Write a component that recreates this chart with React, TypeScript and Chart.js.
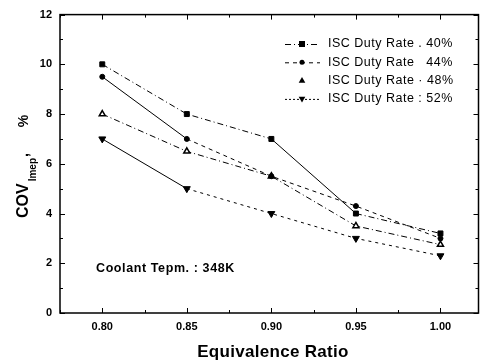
import React, { useEffect, useRef } from "react";
import { Chart, registerables } from "chart.js";

Chart.register(...registerables);

const equivalenceRatio = [0.8, 0.85, 0.9, 0.95, 1.0];
const rate40 = [10, 8, 7, 4, 3.2];
const rate44 = [9.5, 7, 5.5, 4.3, 3.0];
const rate48 = [8, 6.5, 5.5, 3.5, 2.75];
const rate52 = [7, 5, 4, 3, 2.3];
const seriesLabels = [
  "ISC Duty Rate . 40%",
  "ISC Duty Rate   44%",
  "ISC Duty Rate · 48%",
  "ISC Duty Rate : 52%",
];
const xTicks = [0.8, 0.85, 0.9, 0.95, 1.0];
const xTitle = "Equivalence Ratio";
const annotation = "Coolant Tepm. : 348K";

const FONT = "'Liberation Sans', Arial, sans-serif";

const toPts = (ys: number[]) => ys.map((y, i) => ({ x: equivalenceRatio[i], y }));

const DASHDOT = [6, 3, 1, 3];
const DASH = [4, 4];

function drawPointHelper(ctx: CanvasRenderingContext2D, o: any, x: number, y: number) {
  ctx.beginPath();
  const r = o.radius;
  if (o.pointStyle === "rect") {
    ctx.rect(x - r, y - r, 2 * r, 2 * r);
  } else if (o.pointStyle === "circle") {
    ctx.arc(x, y, r, 0, Math.PI * 2);
  } else {
    const sgn = o.rotation === 180 ? -1 : 1;
    ctx.moveTo(x, y - sgn * r);
    ctx.lineTo(x + r * 0.95, y + sgn * r * 0.6);
    ctx.lineTo(x - r * 0.95, y + sgn * r * 0.6);
    ctx.closePath();
  }
  ctx.fill();
}

const frameAndText = {
  id: "frameAndText",
  afterDraw(chart: any) {
    const { ctx, chartArea: a, scales } = chart;
    const xs = scales.x;
    const ys = scales.y;
    ctx.save();
    ctx.strokeStyle = "#000";
    ctx.lineWidth = 1.5;
    ctx.strokeRect(a.left, a.top, a.right - a.left, a.bottom - a.top);
    ctx.lineWidth = 1;
    for (let v = 0; v <= 12; v += 1) {
      const py = Math.round(ys.getPixelForValue(v)) + 0.5;
      const len = v % 2 === 0 ? 5 : 3;
      ctx.beginPath();
      ctx.moveTo(a.left, py);
      ctx.lineTo(a.left + len, py);
      ctx.moveTo(a.right, py);
      ctx.lineTo(a.right - len, py);
      ctx.stroke();
    }
    for (let i = 0; i <= 9; i++) {
      const v = 0.775 + i * 0.025;
      if (v > 1.0226) break;
      const px = Math.round(xs.getPixelForValue(v)) + 0.5;
      const len = i % 2 === 1 ? 5 : 3;
      ctx.beginPath();
      ctx.moveTo(px, a.bottom);
      ctx.lineTo(px, a.bottom - len);
      ctx.moveTo(px, a.top);
      ctx.lineTo(px, a.top + len);
      ctx.stroke();
    }
    ctx.fillStyle = "#000";
    ctx.font = `bold 12.5px ${FONT}`;
    (ctx as any).letterSpacing = "0.6px";
    ctx.textBaseline = "middle";
    ctx.textAlign = "left";
    ctx.fillText(annotation, 96, 269);
    (ctx as any).letterSpacing = "0.3px";
    ctx.font = `bold 17px ${FONT}`;
    ctx.textAlign = "center";
    ctx.fillText(xTitle, 273, 352);
    (ctx as any).letterSpacing = "0px";
    ctx.save();
    ctx.translate(28, 218);
    ctx.rotate(-Math.PI / 2);
    ctx.textAlign = "left";
    ctx.textBaseline = "alphabetic";
    ctx.font = `bold 16px ${FONT}`;
    ctx.fillText("COV", 0, 0);
    let w = ctx.measureText("COV").width + 2;
    ctx.font = `bold 10px ${FONT}`;
    ctx.fillText("Imep", w, 8);
    w += ctx.measureText("Imep").width + 1;
    ctx.font = `bold 14px ${FONT}`;
    ctx.fillText(",", w, 0);
    w += ctx.measureText(", ").width + 22;
    ctx.fillText("%", w, 0);
    ctx.restore();
    const styles = [
      { dash: DASHDOT, ps: "rect", rot: 0, r: 3 },
      { dash: DASH, ps: "circle", rot: 0, r: 2.5 },
      { dash: [1, 100], ps: "triangle", rot: 0, r: 3.5 },
      { dash: [2, 2], ps: "triangle", rot: 180, r: 3.5 },
    ];
    ctx.font = `12.5px ${FONT}`;
    (ctx as any).letterSpacing = "0.5px";
    ctx.textAlign = "left";
    ctx.textBaseline = "middle";
    for (let i = 0; i < 4; i++) {
      const ly = 44 + i * 18.3;
      const s = styles[i];
      if (i !== 2) {
        ctx.setLineDash(s.dash);
        ctx.lineWidth = 1;
        ctx.beginPath();
        ctx.moveTo(285, ly + 0.5);
        ctx.lineTo(320, ly + 0.5);
        ctx.stroke();
        ctx.setLineDash([]);
      }
      ctx.fillStyle = "#000";
      drawPointHelper(ctx, { pointStyle: s.ps, rotation: s.rot, radius: s.r }, 302, ly);
      ctx.fillText(seriesLabels[i], 328, ly);
    }
    (ctx as any).letterSpacing = "0px";
    ctx.restore();
  },
};

const seg = (solidIdx: number[], solidDash: number[], otherDash: number[]) => ({
  borderDash: (c: any) => (solidIdx.includes(c.p0DataIndex) ? solidDash : otherDash),
});

export default function App() {
  const ref = useRef<HTMLCanvasElement>(null);
  useEffect(() => {
    document.body.style.margin = "0";
    const chart = new Chart(ref.current!, {
      type: "line",
      data: {
        datasets: [
          {
            label: seriesLabels[0],
            data: toPts(rate40),
            borderColor: "#000",
            backgroundColor: "#000",
            borderWidth: 1,
            pointStyle: "rect",
            pointRadius: 3.5,
            segment: seg([2], [], DASHDOT),
          },
          {
            label: seriesLabels[1],
            data: toPts(rate44),
            borderColor: "#000",
            backgroundColor: "#000",
            borderWidth: 1,
            pointStyle: "circle",
            pointRadius: 2.5,
            segment: seg([0], [], DASH),
          },
          {
            label: seriesLabels[2],
            data: toPts(rate48),
            borderColor: "#000",
            backgroundColor: "#fff",
            borderWidth: 1,
            pointBorderWidth: 1.5,
            pointStyle: "triangle",
            pointRadius: 3.5,
            borderDash: DASHDOT,
          },
          {
            label: seriesLabels[3],
            data: toPts(rate52),
            borderColor: "#000",
            backgroundColor: "#000",
            borderWidth: 1,
            pointStyle: "triangle",
            rotation: 180,
            pointRadius: 4,
            segment: seg([0], [], [3, 4]),
          },
        ] as any,
      },
      options: {
        animation: false,
        responsive: false,
        maintainAspectRatio: false,
        layout: { padding: { top: 13, right: 3, left: 0, bottom: 0 } },
        plugins: { legend: { display: false }, tooltip: { enabled: false } },
        scales: {
          x: {
            type: "linear",
            min: 0.775,
            max: 1.0225,
            afterBuildTicks: (s: any) => {
              s.ticks = xTicks.map((v) => ({ value: v }));
            },
            afterFit: (s: any) => {
              s.height = 48;
            },
            grid: { display: false, drawTicks: false },
            border: { display: false },
            ticks: {
              color: "#000",
              font: { family: FONT, size: 11, weight: "bold" },
              padding: 7,
              callback: (v: any) => Number(v).toFixed(2),
              maxRotation: 0,
              autoSkip: false,
            },
          },
          y: {
            min: 0,
            max: 12,
            afterFit: (s: any) => {
              s.width = 60;
            },
            grid: { display: false, drawTicks: false },
            border: { display: false },
            ticks: {
              stepSize: 2,
              color: "#000",
              font: { family: FONT, size: 11, weight: "bold" },
              padding: 8,
            },
          },
        },
      },
      plugins: [frameAndText],
    });
    return () => chart.destroy();
  }, []);
  return (
    <div style={{ position: "absolute", left: 0, top: 0, width: 484, height: 361, background: "#fff" }}>
      <canvas ref={ref} width={484} height={361} />
    </div>
  );
}
